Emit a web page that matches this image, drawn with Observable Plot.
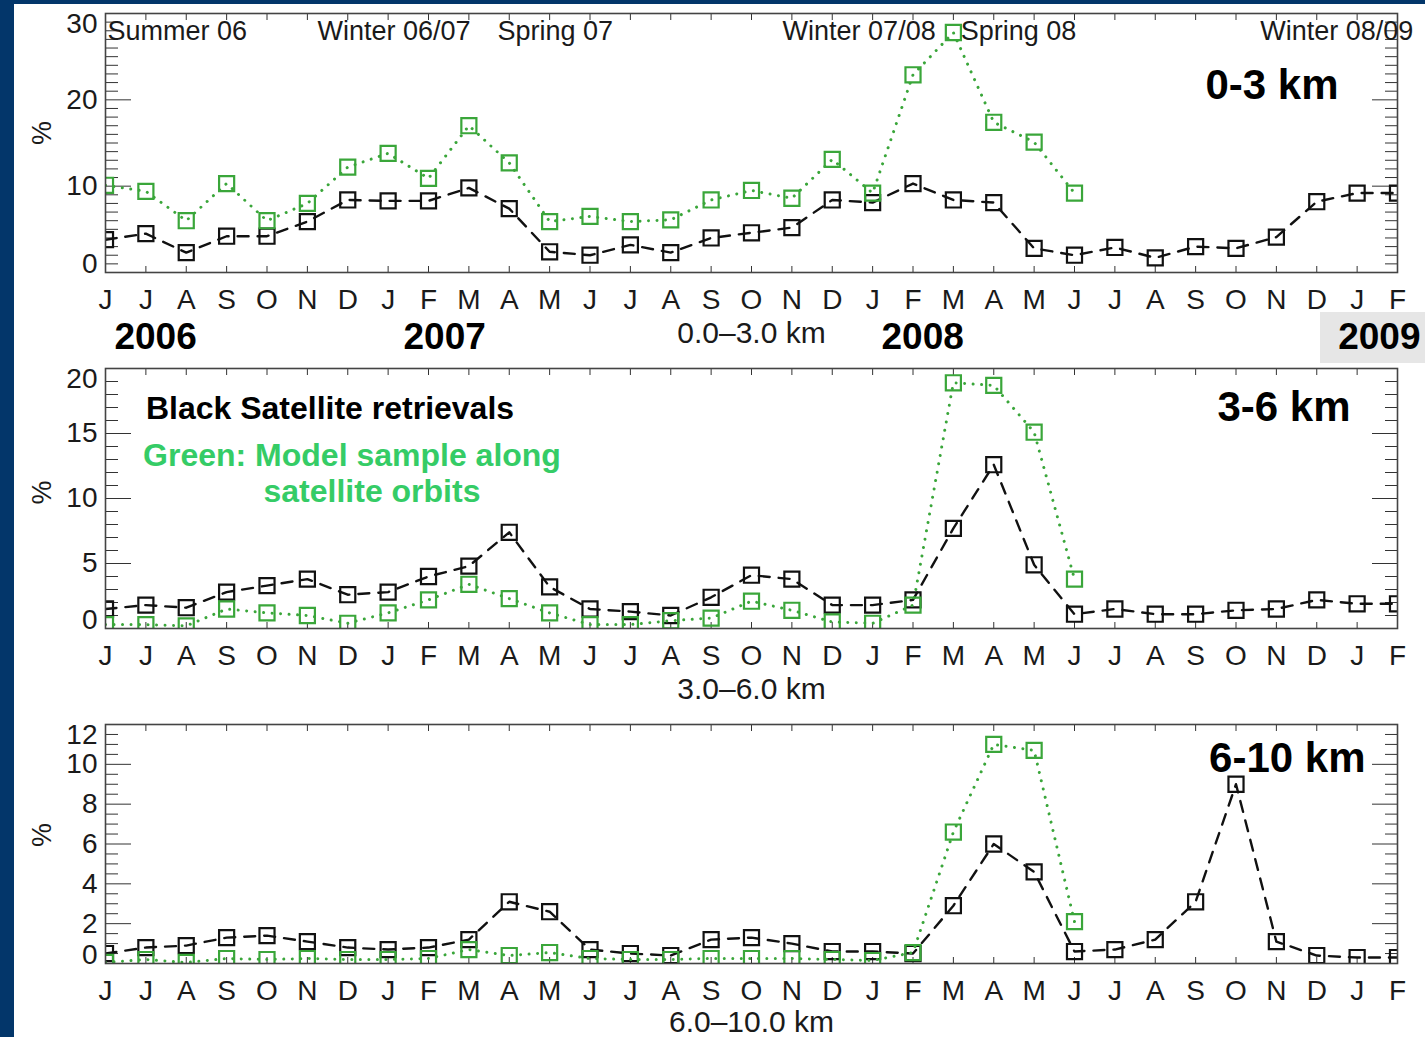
<!DOCTYPE html>
<html><head><meta charset="utf-8">
<script src="https://cdn.jsdelivr.net/npm/d3@7"></script>
<script src="https://cdn.jsdelivr.net/npm/@observablehq/plot@0.6"></script>
<style>
html,body{margin:0;padding:0;background:#fff;}
#page{position:relative;width:1425px;height:1037px;overflow:hidden;background:#fff;}
.navy-left{position:absolute;left:0;top:0;width:14px;height:1037px;background:#03366a;}
.navy-top{position:absolute;left:0;top:0;width:1425px;height:4px;background:#03366a;}
.yearbox{position:absolute;left:1320px;top:312px;width:105px;height:51px;background:#e6e6e6;}
.panel{position:absolute;left:0;}
</style></head>
<body><div id="page"><div class="navy-left"></div><div class="navy-top"></div><div class="yearbox"></div></div>
<script>
// ---- data (June 2006 .. February 2009) ----
const monthLetters = ["J","J","A","S","O","N","D","J","F","M","A","M","J","J","A","S","O","N","D","J","F","M","A","M","J","J","A","S","O","N","D","J","F"];
const yearLabels = ["2006","2007","2008","2009"];
const seasonLabels = ["Summer 06","Winter 06/07","Spring 07","Winter 07/08","Spring 08","Winter 08/09"];

// 0-3 km
const sat03 = [3.8,4.5,2.3,4.2,4.2,5.9,8.4,8.3,8.3,9.8,7.4,2.4,2.0,3.2,2.3,4.0,4.6,5.2,8.4,8.1,10.3,8.4,8.1,2.8,2.0,2.9,1.7,3.0,2.8,4.1,8.2,9.2,9.2];
const mod03 = [10.1,9.4,6.0,10.3,6.0,8.0,12.2,13.8,10.9,17.0,12.7,5.9,6.5,5.9,6.1,8.4,9.5,8.6,13.1,9.2,22.9,27.8,17.4,15.1,9.2];
// 3-6 km
const sat36 = [1.5,1.8,1.6,2.8,3.3,3.8,2.6,2.8,4.0,4.8,7.4,3.2,1.5,1.3,1.0,2.4,4.1,3.8,1.8,1.8,2.2,7.7,12.6,4.9,1.1,1.5,1.1,1.1,1.4,1.5,2.2,1.9,1.9];
const mod36 = [0.3,0.3,0.2,1.5,1.2,1.0,0.4,1.2,2.2,3.4,2.3,1.2,0.3,0.3,0.6,0.8,2.1,1.4,0.5,0.4,1.8,18.9,18.7,15.1,3.8];
// 6-10 km
const sat610 = [0.5,0.8,0.9,1.3,1.4,1.1,0.8,0.7,0.8,1.2,3.1,2.6,0.7,0.5,0.4,1.2,1.3,1.0,0.6,0.6,0.5,2.9,6.0,4.6,0.6,0.7,1.2,3.1,9.0,1.1,0.4,0.3,0.3];
const mod610 = [0.05,0.2,0.05,0.25,0.2,0.25,0.2,0.2,0.25,0.7,0.4,0.55,0.25,0.2,0.2,0.25,0.25,0.25,0.2,0.15,0.55,6.6,11.0,10.7,2.1];

// ---- styling ----
const FONT = '"Liberation Sans", Arial, Helvetica, sans-serif';
const INK = "#1a1a1a";
const BLACK = "#111";
const GREEN = "#3aa63a";
const LEGEND_GREEN = "#35cc66";

function panel({top, height, marginTop, marginBottom, yMax, major, minor, sat, mod, pctDy, extras}) {
  const idx = d3.range(monthLetters.length);
  const satData = sat.map((v, i) => ({i, v}));
  const modData = mod.map((v, i) => ({i, v}));
  const majorTicks = d3.range(0, yMax + 1e-9, major);
  const minorTicks = d3.range(0, yMax + 1e-9, minor).filter(v => !majorTicks.some(m => Math.abs(m - v) < 1e-9));
  const midTicks = majorTicks.filter(v => v > 0 && v < yMax);
  const chart = Plot.plot({
    width: 1425, height, marginLeft: 105, marginRight: 28, marginTop, marginBottom,
    style: {background: "transparent", fontFamily: FONT, overflow: "visible", color: INK},
    x: {type: "linear", domain: [0, monthLetters.length - 1], axis: null},
    y: {domain: [0, yMax], axis: null},
    marks: [
      // ticks (inward, IDL-style)
      Plot.axisX(idx, {anchor: "bottom", tickSize: -6, fill: "none", label: null, stroke: "#333"}),
      Plot.axisX(idx, {anchor: "top", tickSize: -6, fill: "none", label: null, stroke: "#333"}),
      Plot.axisY(majorTicks, {anchor: "left", tickSize: -26, fill: "none", label: null, stroke: "#333"}),
      Plot.axisY(minorTicks, {anchor: "left", tickSize: -13, fill: "none", label: null, stroke: "#333"}),
      Plot.axisY(majorTicks, {anchor: "right", tickSize: -26, fill: "none", label: null, stroke: "#333"}),
      Plot.axisY(minorTicks, {anchor: "right", tickSize: -13, fill: "none", label: null, stroke: "#333"}),
      // month labels
      Plot.text(idx, {x: d => d, text: d => monthLetters[d], frameAnchor: "bottom", dy: 17, lineAnchor: "top", fontSize: 28, fill: INK}),
      // y labels
      Plot.text(midTicks, {y: d => d, text: d => String(d), frameAnchor: "left", dx: -8, textAnchor: "end", lineAnchor: "middle", fontSize: 28, fill: INK}),
      Plot.text([0], {y: d => d, text: d => String(d), frameAnchor: "left", dx: -8, textAnchor: "end", lineAnchor: "bottom", fontSize: 28, fill: INK}),
      Plot.text([yMax], {y: d => d, text: d => String(d), frameAnchor: "left", dx: -8, textAnchor: "end", lineAnchor: "top", fontSize: 28, fill: INK}),
      Plot.text(["%"], {frameAnchor: "left", dx: -63, dy: pctDy, rotate: -90, fontSize: 27, fill: INK}),
      // series
      Plot.line(satData, {x: "i", y: "v", stroke: BLACK, strokeWidth: 2.4, strokeDasharray: "11,9", clip: true}),
      Plot.dot(satData, {x: "i", y: "v", symbol: "square", r: 8.5, stroke: BLACK, strokeWidth: 2.2, fill: "none", clip: true}),
      Plot.line(modData, {x: "i", y: "v", stroke: GREEN, strokeWidth: 3, strokeDasharray: "0.01,8.5", strokeLinecap: "round", clip: true}),
      Plot.dot(modData, {x: "i", y: "v", symbol: "square", r: 8.5, stroke: GREEN, strokeWidth: 2.2, fill: "none", clip: true}),
      Plot.frame({stroke: "#444", strokeWidth: 1.6}),
      ...extras
    ]
  });
  const wrap = document.createElement("div");
  wrap.className = "panel";
  wrap.style.top = top + "px";
  wrap.appendChild(chart);
  document.getElementById("page").appendChild(wrap);
}

// Panel 1: 0-3 km
panel({
  top: 0, height: 360, marginTop: 13, marginBottom: 88, yMax: 30, major: 10, minor: 1,
  sat: sat03, mod: mod03, pctDy: 2,
  extras: [
    Plot.text(seasonLabels, {x: (d, i) => [0.05, 5.25, 9.71, 16.77, 21.18, 28.6][i], frameAnchor: "top", dy: 7, lineAnchor: "top", textAnchor: "start", fontSize: 27, fill: INK}),
    Plot.text(["0-3 km"], {frameAnchor: "top-right", dx: -59, dy: 72, textAnchor: "end", lineAnchor: "middle", fontSize: 42, fontWeight: "bold", fill: "#000"}),
    Plot.text(yearLabels, {x: (d, i) => [1.24, 8.4, 20.24, 31.55][i], frameAnchor: "bottom", dy: 65, lineAnchor: "middle", fontSize: 37, fontWeight: "bold", fill: "#000"}),
    Plot.text(["0.0\u20133.0 km"], {frameAnchor: "bottom", dy: 61, lineAnchor: "middle", fontSize: 30, fill: INK})
  ]
});

// Panel 2: 3-6 km
panel({
  top: 355, height: 345, marginTop: 13, marginBottom: 72, yMax: 20, major: 5, minor: 1,
  sat: sat36, mod: mod36, pctDy: 6,
  extras: [
    Plot.text(["3-6 km"], {frameAnchor: "top-right", dx: -47, dy: 39, textAnchor: "end", lineAnchor: "middle", fontSize: 42, fontWeight: "bold", fill: "#000"}),
    Plot.text(["Black Satellite retrievals"], {x: 1.0, y: 16.9, textAnchor: "start", lineAnchor: "middle", fontSize: 32, fontWeight: "bold", fill: "#000"}),
    Plot.text(["Green: Model sample along"], {x: 0.93, y: 13.3, textAnchor: "start", lineAnchor: "middle", fontSize: 32, fontWeight: "bold", fill: LEGEND_GREEN}),
    Plot.text(["satellite orbits"], {x: 6.6, y: 10.5, textAnchor: "middle", lineAnchor: "middle", fontSize: 32, fontWeight: "bold", fill: LEGEND_GREEN}),
    Plot.text(["3.0\u20136.0 km"], {frameAnchor: "bottom", dy: 61, lineAnchor: "middle", fontSize: 30, fill: INK})
  ]
});

// Panel 3: 6-10 km
panel({
  top: 700, height: 337, marginTop: 24, marginBottom: 74, yMax: 12, major: 2, minor: 0.5,
  sat: sat610, mod: mod610, pctDy: 3,
  extras: [
    Plot.text(["6-10 km"], {frameAnchor: "top-right", dx: -32, dy: 34, textAnchor: "end", lineAnchor: "middle", fontSize: 42, fontWeight: "bold", fill: "#000"}),
    Plot.text(["6.0\u201310.0 km"], {frameAnchor: "bottom", dy: 59, lineAnchor: "middle", fontSize: 30, fill: INK})
  ]
});
</script>
</body></html>
